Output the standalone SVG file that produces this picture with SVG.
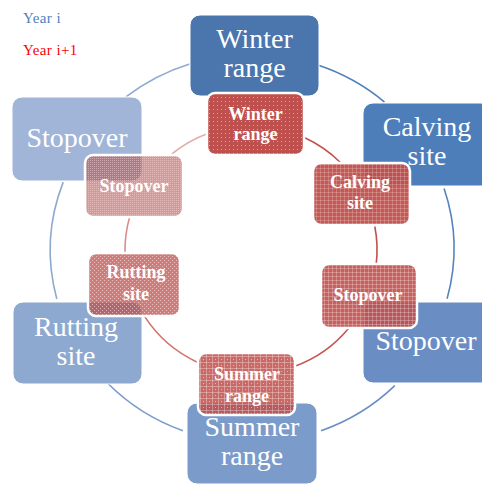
<svg xmlns="http://www.w3.org/2000/svg" width="482" height="485" viewBox="0 0 482 485">
<style>
.bt{font-family:"Liberation Serif","Times New Roman",serif;font-size:28px;fill:#fff;text-anchor:middle}
.rt{font-family:"Liberation Serif","Times New Roman",serif;font-size:18px;font-weight:bold;fill:#fff;text-anchor:middle}
.lg{font-family:"Liberation Serif","Times New Roman",serif;font-size:15px;letter-spacing:0.4px}
.bb{stroke:#fff;stroke-width:1}
.rb{stroke:#fff;stroke-width:2.5}
.arc{fill:none;stroke-width:1.6}
</style>
<defs>
<pattern id="pW" width="4" height="4" patternUnits="userSpaceOnUse"><rect width="4" height="4" fill="#c0504d"/><rect x="1" y="1" width="1" height="1" fill="#fff" opacity="0.45"/></pattern>
<pattern id="pC" width="4" height="4" patternUnits="userSpaceOnUse"><rect width="4" height="4" fill="#c0504d" opacity="0.95"/><rect width="4" height="1" fill="#fff" opacity="0.2"/><rect width="1" height="4" fill="#fff" opacity="0.2"/></pattern>
<pattern id="pS" width="4" height="4" patternUnits="userSpaceOnUse"><rect width="4" height="4" fill="#c0504d" opacity="0.9"/><rect width="4" height="1" fill="#fff" opacity="0.25"/><rect width="1" height="4" fill="#fff" opacity="0.25"/></pattern>
<pattern id="pSu" width="6" height="6" patternUnits="userSpaceOnUse"><rect width="6" height="6" fill="#c0504d" opacity="0.85"/><rect x="2" y="0" width="1" height="6" fill="#fff" opacity="0.3"/><rect x="0" y="2" width="6" height="1" fill="#fff" opacity="0.3"/><rect x="5" y="5" width="1" height="1" fill="#fff" opacity="0.5"/></pattern>
<pattern id="pR" width="4" height="4" patternUnits="userSpaceOnUse"><rect width="4" height="4" fill="#c0504d" opacity="0.75"/><rect x="0" y="0" width="1" height="1" fill="#fff" opacity="0.5"/><rect x="2" y="2" width="1" height="1" fill="#fff" opacity="0.5"/></pattern>
<pattern id="pSL" width="2" height="2" patternUnits="userSpaceOnUse"><rect width="2" height="2" fill="#c0504d" opacity="0.6"/><rect x="0" y="0" width="1" height="1" fill="#fff" opacity="0.35"/></pattern>
</defs>

<g id="legend">
<text class="lg" x="23" y="23" fill="#4f81bd">Year i</text>
<text class="lg" x="23" y="55" fill="#ff0000">Year i+1</text>
</g>

<g id="connectors">
<path class="arc" stroke="#8eaad3" d="M125.9,96.9 A202,194 0 0 1 189.6,64"/>
<path class="arc" stroke="#4f7fba" d="M317.8,65.1 A202,194 0 0 1 384.5,102.1"/>
<path class="arc" stroke="#5584bf" d="M444.1,188.6 A202,194 0 0 1 447.1,298.7"/>
<path class="arc" stroke="#6a8ec4" d="M394.8,385.7 A202,194 0 0 1 321.1,430.8"/>
<path class="arc" stroke="#7b9bcb" d="M182.9,430.8 A202,194 0 0 1 107.7,383.3"/>
<path class="arc" stroke="#8ea9d0" d="M56.8,299.0 A202,194 0 0 1 63.2,182.1"/>
<path class="arc" stroke="#e3aeac" d="M171.6,154.1 A126,124 0 0 1 207.9,133.5"/>
<path class="arc" stroke="#c0504d" d="M304.3,137.6 A126,124 0 0 1 340.1,162.3"/>
<path class="arc" stroke="#c0504d" d="M374.8,226.3 A126,124 0 0 1 376.2,264.1"/>
<path class="arc" stroke="#c45653" d="M348.9,328.0 A126,124 0 0 1 294.2,366.5"/>
<path class="arc" stroke="#cf7471" d="M197.8,362.4 A126,124 0 0 1 144.6,316.4"/>
<path class="arc" stroke="#d98e8c" d="M125.0,252.2 A126,124 0 0 1 129.4,217.9"/>
</g>

<g id="n-winter-range">
<rect class="bb" x="190" y="15" width="129" height="81" rx="10" fill="#4a75ad"/>
<text class="bt" x="254.5" y="48">Winter</text>
<text class="bt" x="254.5" y="77">range</text>
</g>
<g id="n-calving-site">
<rect class="bb" x="363" y="103" width="128" height="83" rx="10" fill="#4e7eb9"/>
<text class="bt" x="427" y="136">Calving</text>
<text class="bt" x="427" y="165">site</text>
</g>
<g id="n-stopover-right">
<rect class="bb" x="363" y="302" width="128" height="81" rx="10" fill="#6a8ec4"/>
<text class="bt" x="426" y="350">Stopover</text>
</g>
<g id="n-summer-range">
<rect class="bb" x="187" y="403" width="130" height="81" rx="10" fill="#7b9bcb"/>
<text class="bt" x="252" y="436">Summer</text>
<text class="bt" x="252" y="465">range</text>
</g>
<g id="n-rutting-site">
<rect class="bb" x="13" y="302" width="129" height="82" rx="10" fill="#8ea9d0"/>
<text class="bt" x="76" y="336">Rutting</text>
<text class="bt" x="76" y="365">site</text>
</g>
<g id="n-stopover-left">
<rect class="bb" x="12" y="97" width="130" height="84" rx="10" fill="#a1b5d8"/>
<text class="bt" x="77" y="147">Stopover</text>
</g>

<g id="r-winter-range">
<rect class="rb" x="207" y="93" width="97" height="62" rx="8" fill="url(#pW)"/>
<text class="rt" x="255.5" y="120">Winter</text>
<text class="rt" x="255.5" y="140">range</text>
</g>
<g id="r-calving-site">
<rect class="rb" x="313" y="163" width="97" height="62" rx="8" fill="url(#pC)"/>
<text class="rt" x="360" y="188">Calving</text>
<text class="rt" x="360" y="209">site</text>
</g>
<g id="r-stopover-right">
<rect class="rb" x="321" y="264" width="96" height="64" rx="8" fill="url(#pS)"/>
<text class="rt" x="368" y="301">Stopover</text>
</g>
<g id="r-summer-range">
<rect class="rb" x="198" y="353" width="97" height="62" rx="8" fill="url(#pSu)"/>
<text class="rt" x="247" y="380">Summer</text>
<text class="rt" x="247" y="402">range</text>
</g>
<g id="r-rutting-site">
<rect class="rb" x="88" y="253" width="92" height="63" rx="8" fill="url(#pR)"/>
<text class="rt" x="136" y="278">Rutting</text>
<text class="rt" x="136" y="300">site</text>
</g>
<g id="r-stopover-left">
<rect class="rb" x="85" y="155" width="98" height="62" rx="8" fill="url(#pSL)"/>
<text class="rt" x="134" y="192">Stopover</text>
</g>
</svg>
